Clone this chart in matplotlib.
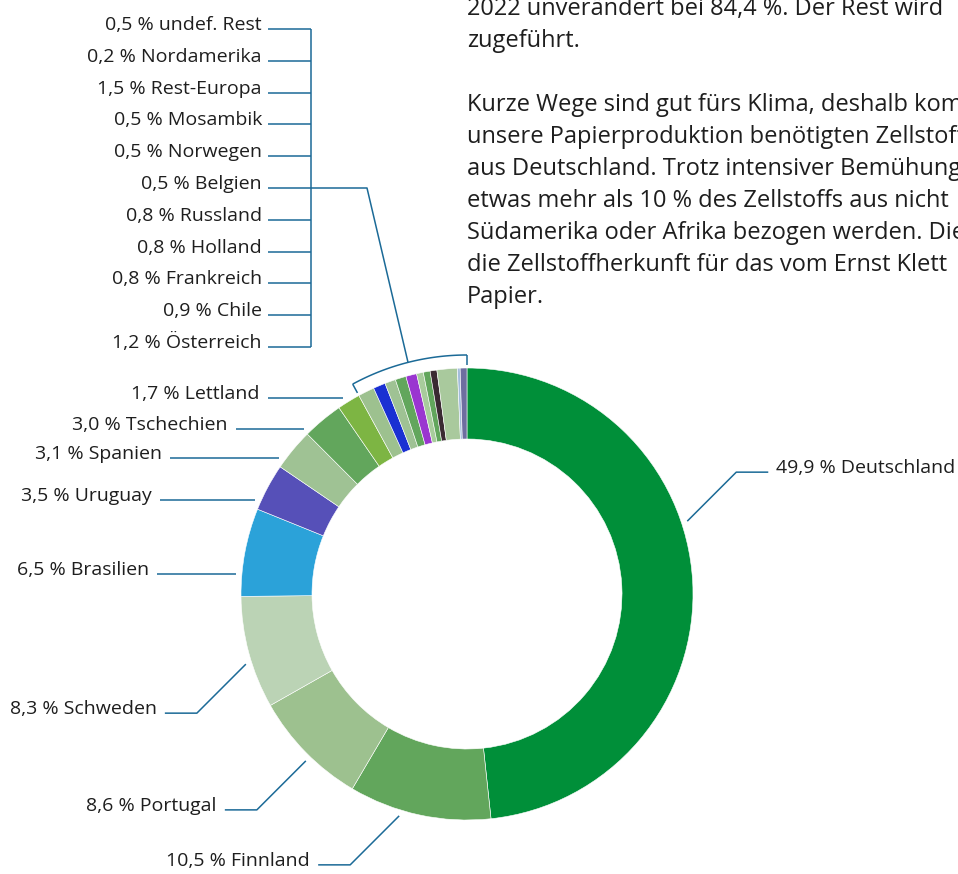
import numpy as np
import matplotlib.pyplot as plt

plt.rcParams['font.family'] = ['Open Sans', 'DejaVu Sans']

# data (clockwise from 12 o'clock)
countries = ['Deutschland', 'Finnland', 'Portugal', 'Schweden', 'Brasilien', 'Uruguay',
             'Spanien', 'Tschechien', 'Lettland', 'Österreich', 'Chile', 'Frankreich',
             'Holland', 'Russland', 'Belgien', 'Norwegen', 'Mosambik', 'Rest-Europa',
             'Nordamerika', 'undef. Rest']
shares = [49.9, 10.5, 8.6, 8.3, 6.5, 3.5, 3.1, 3.0, 1.7,
          1.2, 0.9, 0.8, 0.8, 0.8, 0.5, 0.5, 0.5, 1.5, 0.2, 0.5]
colors = ['#008f39', '#62a65c', '#9dc18f', '#bbd3b5', '#2ba2d9', '#5650b8',
          '#9fc294', '#62a65c', '#7db543', '#9dc18f', '#1a30d2', '#9fc294',
          '#62a65c', '#9a35d0', '#a8cc9c', '#62a65c', '#3a2a32', '#a9c99d',
          '#a3bddb', '#6e6ea0']
n_small = 11  # last slices collected in the bracket

paragraph = [
    '2022 unverändert bei 84,4 %. Der Rest wird',
    'zugeführt.',
    '',
    'Kurze Wege sind gut fürs Klima, deshalb kommt',
    'unsere Papierproduktion benötigten Zellstoffs',
    'aus Deutschland. Trotz intensiver Bemühungen',
    'etwas mehr als 10 % des Zellstoffs aus nicht',
    'Südamerika oder Afrika bezogen werden. Die',
    'die Zellstoffherkunft für das vom Ernst Klett',
    'Papier.',
]

W, H = 958, 874
fig = plt.figure(figsize=(9.58, 8.74), dpi=100)
ax = fig.add_axes([0, 0, 1, 1])

cx, cy = 467, 594
R, ring = 226, 71
line_c = '#1b6a97'
txt_c = '#1e1e1e'


def Y(y):
    return H - y


def pt(ang, rad):
    a = np.radians(ang)
    return cx + rad * np.sin(a), cy - rad * np.cos(a)


def line(xs, ys):
    ax.plot(xs, [Y(v) for v in ys], color=line_c, lw=1.1, solid_capstyle='butt')


def label(i):
    return f"{shares[i]:.1f}".replace('.', ',') + ' % ' + countries[i]


def put(x, y, s, ha):
    ax.text(x, Y(y), s, ha=ha, va='baseline', fontsize=14, color=txt_c)


ax.pie(shares, colors=colors, startangle=90, counterclock=False, radius=R,
       center=(cx, Y(cy)), wedgeprops=dict(width=ring, edgecolor='white', linewidth=0.4))
ax.set_xlim(0, W)
ax.set_ylim(0, H)
ax.set_aspect('equal')
ax.axis('off')

# elbow leaders: angle on ring, direction of the elbow
elbows = {'Deutschland': (71.7, 1, -1), 'Finnland': (197, -1, 1),
          'Portugal': (224, -1, 1), 'Schweden': (252.4, -1, 1)}
for name, (ang, sx, sy) in elbows.items():
    x0, y0 = pt(ang, R + 6)
    x1, y1 = x0 + sx * 49, y0 + sy * 49
    x2 = x1 + sx * 32
    line([x0, x1, x2], [y0, y1, y1])
    put(x2 + sx * 8, y1 + 1, label(countries.index(name)), 'left' if sx > 0 else 'right')

# straight leaders: line height, left end
straight = {'Brasilien': (574, 157), 'Uruguay': (500, 160), 'Spanien': (458, 170),
            'Tschechien': (429, 236), 'Lettland': (398, 268)}
for name, (ly, lx) in straight.items():
    xe = cx - np.sqrt((R + 6) ** 2 - (ly - cy) ** 2)
    line([lx, xe], [ly, ly])
    put(lx - 8, ly + 1, label(countries.index(name)), 'right')

# bracket over the small slices
cum = np.cumsum([0] + shares) / sum(shares) * 360
a0, a1 = cum[len(shares) - n_small], cum[-1]
arc = np.linspace(a0, a1, 80)
ax_, ay_ = pt(arc, R + 13)
line(ax_, ay_)
for a in (a0, a1):
    p, q = pt(a, R + 13), pt(a, R + 3)
    line([p[0], q[0]], [p[1], q[1]])

rows = [29 + 31.8 * k for k in range(n_small)]
small_idx = list(range(len(shares) - 1, len(shares) - 1 - n_small, -1))
for k, i in enumerate(small_idx):
    line([268, 311], [rows[k], rows[k]])
    put(262, rows[k] + 1, label(i), 'right')
line([311, 311], [rows[0], rows[-1]])
mx, my = pt((a0 + a1) / 2, R + 13)
line([311, 367, mx], [rows[5], rows[5], my])

# paragraph at the top right
for k, s in enumerate(paragraph):
    ax.text(467, Y(15 + 32 * k), s, ha='left', va='baseline', fontsize=17, color=txt_c)

fig.savefig('out.png', dpi=100)
